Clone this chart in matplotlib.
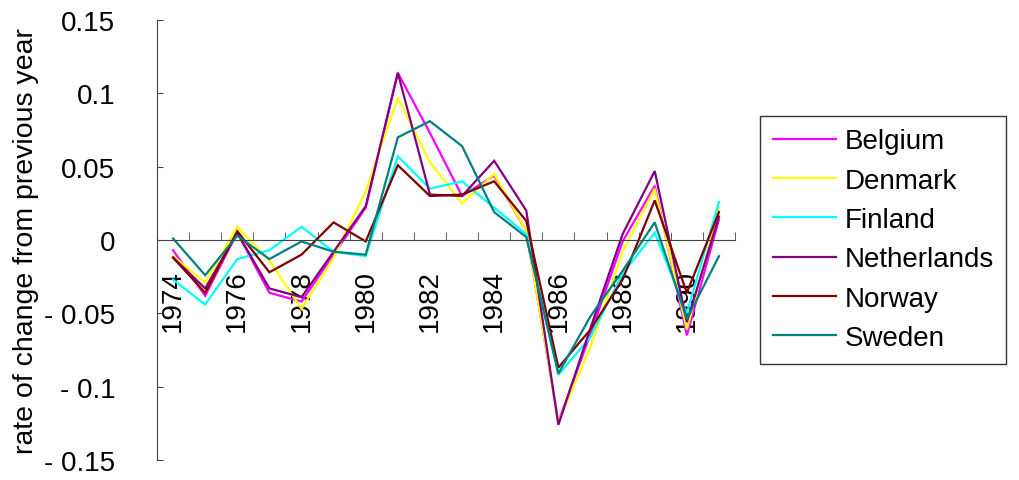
import numpy as np
import matplotlib
matplotlib.use("Agg")
import matplotlib.pyplot as plt

plt.rcParams['font.family'] = ['Liberation Sans', 'DejaVu Sans']

years = list(range(1974, 1992))

belgium = [-0.007, -0.038, 0.005, -0.036, -0.042, -0.010, 0.022, 0.114, 0.073, 0.030,
           0.044, 0.006, -0.124, -0.064, -0.001, 0.037, -0.065, 0.014]
denmark = [-0.011, -0.029, 0.009, -0.014, -0.047, -0.012, 0.033, 0.097, 0.053, 0.025,
           0.045, 0.006, -0.124, -0.073, -0.008, 0.035, -0.061, 0.022]
finland = [-0.027, -0.044, -0.013, -0.007, 0.009, -0.008, -0.011, 0.057, 0.035, 0.040,
           0.022, 0.004, -0.092, -0.066, -0.023, 0.005, -0.050, 0.026]
netherlands = [-0.012, -0.033, 0.005, -0.033, -0.039, -0.008, 0.023, 0.114, 0.031, 0.030,
               0.054, 0.020, -0.126, -0.060, 0.004, 0.047, -0.056, 0.016]
norway = [-0.012, -0.036, 0.006, -0.022, -0.010, 0.012, -0.001, 0.051, 0.030, 0.031,
          0.040, 0.013, -0.087, -0.061, -0.027, 0.027, -0.036, 0.019]
sweden = [0.001, -0.024, 0.003, -0.013, -0.001, -0.008, -0.010, 0.070, 0.081, 0.064,
          0.019, 0.002, -0.091, -0.052, -0.021, 0.012, -0.054, -0.011]

series = [("Belgium", belgium, "#FF00FF"),
          ("Denmark", denmark, "#FFFF00"),
          ("Finland", finland, "#00FFFF"),
          ("Netherlands", netherlands, "#800080"),
          ("Norway", norway, "#800000"),
          ("Sweden", sweden, "#008080")]

yticks = [-0.15, -0.1, -0.05, 0, 0.05, 0.1, 0.15]
ytick_labels = ["- 0.15", "- 0.1", "- 0.05", "0", "0.05", "0.1", "0.15"]

fig = plt.figure(figsize=(10.19, 4.81), dpi=100)
ax = fig.add_axes([157/1019, 20/481, 578/1019, 440/481])

x = np.arange(len(years))
for name, vals, col in series:
    ax.plot(x, vals, color=col, lw=1.6, label=name, solid_joinstyle='miter')

ax.set_xlim(-0.5, len(years) - 0.5)
ax.set_ylim(-0.15, 0.15)

ax.spines['top'].set_visible(False)
ax.spines['right'].set_visible(False)
ax.spines['bottom'].set_position(('data', 0))
ax.spines['left'].set_color('#444444')
ax.spines['bottom'].set_color('#444444')

# year labels every other category, tick marks between categories
ax.set_xticks(x[::2])
ax.set_xticklabels([str(y) for y in years[::2]], rotation=90, fontsize=20)
ax.tick_params(axis='x', which='major', length=0, pad=21)
for lab in ax.get_xticklabels():
    lab.set_verticalalignment('top')
ax.set_xticks(np.arange(-0.5, len(years)), minor=True)
ax.tick_params(axis='x', which='minor', direction='in', length=6, color='#444444')

ax.set_yticks(yticks)
ax.set_yticklabels(ytick_labels, fontsize=20)
ax.tick_params(axis='y', direction='in', length=4, pad=30, color='#444444')

ax.set_ylabel("rate of change from previous year", fontsize=20.5, labelpad=4)

fig.legend(loc='upper left', bbox_to_anchor=(760/1019, 1 - 117/481), fontsize=20,
           frameon=True, fancybox=False, edgecolor='black', borderaxespad=0,
           handlelength=2.3, handletextpad=0.3, labelspacing=0.48, borderpad=0.45)
leg = fig.legends[0]
leg.get_frame().set_linewidth(1.0)

fig.savefig("out.png", dpi=100)
